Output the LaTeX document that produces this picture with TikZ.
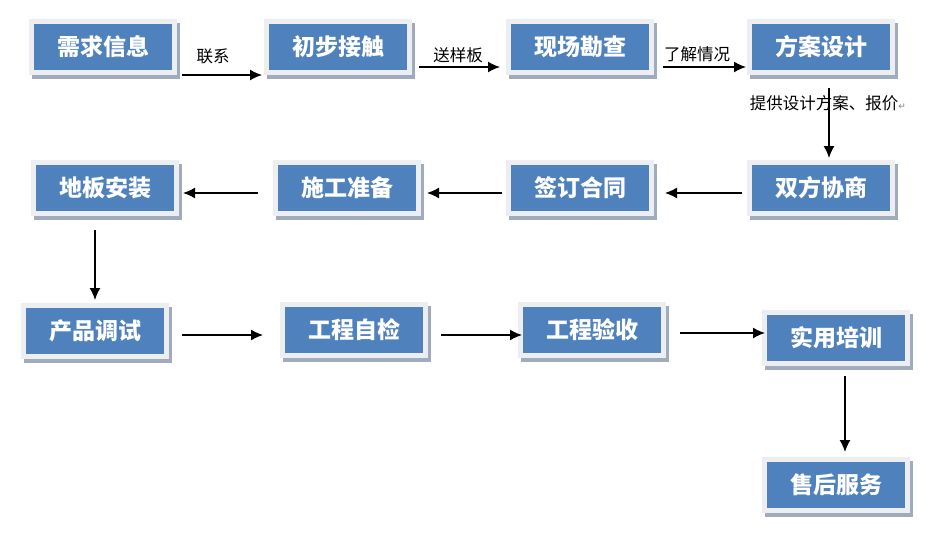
\documentclass[tikz,border=0pt]{standalone}
\usepackage{fontspec}
\newfontfamily\cjk{Noto Sans CJK SC}
\newfontfamily\symfont{DejaVu Sans}
\usetikzlibrary{arrows.meta}

\definecolor{boxblue}{RGB}{79,129,189}
\definecolor{framegray}{RGB}{236,238,241}
\definecolor{shadowgray}{RGB}{160,172,190}

\tikzset{
    flowbox/.style={
        minimum width=138pt, minimum height=46pt, inner sep=0pt, outer sep=0pt,
        fill=boxblue, text=white,
        font=\cjk\bfseries\fontsize{23}{25}\selectfont,
        preaction={draw=shadowgray, fill=shadowgray, line width=10pt,
            transform canvas={shift={(3pt,-4pt)}}},
        preaction={draw=framegray, line width=10pt}
    },
    steplabel/.style={font=\cjk\fontsize{16.5}{18}\selectfont, inner sep=1pt},
    flow/.style={-{Latex[length=12pt,width=11pt]}, line width=1.4pt}
}

\begin{document}
\begin{tikzpicture}[x=1pt, y=-1pt]
    \useasboundingbox[fill=white] (0,0) rectangle (952,538);

    % process steps
    \foreach \name/\x/\y/\txt in {
        need/103/47/需求信息, contact/338/47/初步接触,
        survey/580/47/现场勘查, design/821/47/方案设计,
        install/105/188/地板安装, prep/347/188/施工准备,
        contract/580/188/签订合同, negot/821/188/双方协商,
        debug/95/331/产品调试, selfchk/354/330/工程自检,
        accept/592/330/工程验收, train/836/338/实用培训,
        service/836/485/售后服务} {
        \node[flowbox] (\name) at (\x,\y) {\txt};
    }

    % labels on the connectors
    \node[steplabel] (lblcontact) at (213,56) {联系};
    \node[steplabel] (lblsample) at (458,55) {送样板};
    \node[steplabel] (lblinfo) at (697,54) {了解情况};
    \node[steplabel] (lblquote) at (828,103)
        {提供设计方案、报价{\symfont\fontsize{9}{9}\selectfont\color{gray}↵}};

    % first row
    \draw[flow] ([shift={(10,28)}]need.east) -- ([shift={(-7,28)}]contact.west);
    \draw[flow] ([shift={(12,20)}]contact.east) -- ([shift={(-11,20)}]survey.west);
    \draw[flow] ([shift={(14,20)}]survey.east) -- ([shift={(-6,20)}]design.west);
    \draw[flow] ([shift={(8,18)}]design.south) -- ([shift={(8,-7)}]negot.north);

    % second row, right to left
    \draw[flow] ([shift={(-10,5)}]negot.west) -- ([shift={(16,5)}]contract.east);
    \draw[flow] ([shift={(-9,5)}]contract.west) -- ([shift={(11,5)}]prep.east);
    \draw[flow] ([shift={(-20,5)}]prep.west) -- ([shift={(9,5)}]install.east);
    \draw[flow] ([shift={(-10,19)}]install.south) -- ([shift={(0,-8)}]debug.north);

    % third row
    \draw[flow] ([shift={(18,4)}]debug.east) -- ([shift={(-22,5)}]selfchk.west);
    \draw[flow] ([shift={(18,5)}]selfchk.east) -- ([shift={(-1,5)}]accept.west);
    \draw[flow] ([shift={(19,3)}]accept.east) -- ([shift={(-2,-5)}]train.west);
    \draw[flow] ([shift={(9,15)}]train.south) -- ([shift={(9,-10)}]service.north);
\end{tikzpicture}
\end{document}
